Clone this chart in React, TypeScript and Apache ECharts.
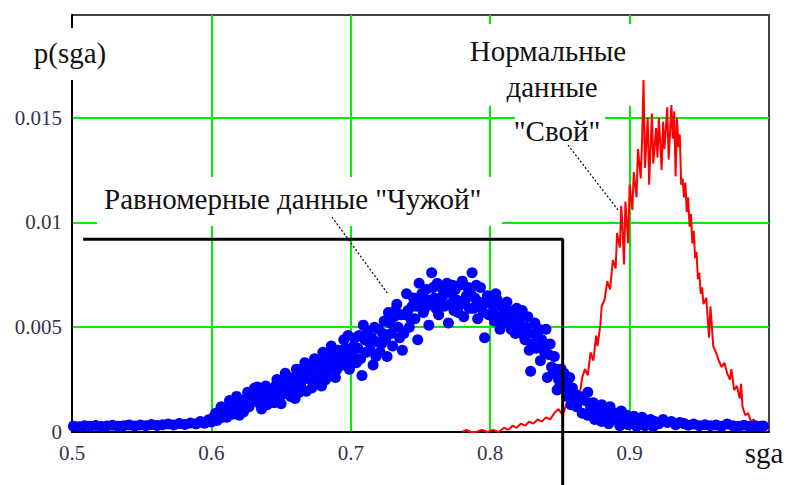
import React, { useEffect, useRef } from "react";
import * as echarts from "echarts";

const FONT = "Liberation Serif";

const xTickLabels = ["0.5", "0.6", "0.7", "0.8", "0.9"];
const yTickValues = [0, 0.005, 0.01, 0.015];

// "Свой" – normal data (red trace)
const redPoints: [number, number][] = [
  [0.780, 0.0000], [0.783, 0.0001], [0.786, 0.0000], [0.790, 0.0000], [0.794, 0.0001],
  [0.798, 0.0000], [0.802, 0.0001], [0.806, 0.0000], [0.810, 0.0002], [0.813, 0.0001],
  [0.816, 0.0003], [0.819, 0.0002], [0.822, 0.0004], [0.825, 0.0003], [0.828, 0.0005],
  [0.831, 0.0004], [0.834, 0.0006], [0.837, 0.0005], [0.840, 0.0007], [0.843, 0.0006],
  [0.846, 0.0009], [0.849, 0.0011], [0.852, 0.0008], [0.855, 0.0014], [0.858, 0.0012],
  [0.861, 0.0020], [0.864, 0.0017], [0.866, 0.0026], [0.868, 0.0030], [0.870, 0.0027],
  [0.872, 0.0038], [0.874, 0.0034], [0.876, 0.0046], [0.877, 0.0041], [0.879, 0.0051],
  [0.880, 0.0060], [0.882, 0.0063], [0.884, 0.0072], [0.886, 0.0068], [0.888, 0.0082],
  [0.890, 0.0078], [0.891, 0.0095], [0.893, 0.0088], [0.894, 0.0108], [0.895, 0.0096],
  [0.896, 0.0080], [0.897, 0.0110], [0.899, 0.0090], [0.900, 0.0118], [0.902, 0.0106],
  [0.903, 0.0124], [0.905, 0.0112], [0.906, 0.0135], [0.908, 0.0121], [0.909, 0.0140],
  [0.910, 0.0168], [0.911, 0.0126], [0.913, 0.0150], [0.914, 0.0118], [0.916, 0.0152],
  [0.917, 0.0128], [0.919, 0.0145], [0.920, 0.0131], [0.921, 0.0150], [0.923, 0.0125],
  [0.924, 0.0148], [0.925, 0.0135], [0.927, 0.0155], [0.928, 0.0130], [0.930, 0.0156],
  [0.931, 0.0140], [0.932, 0.0153], [0.933, 0.0122], [0.934, 0.0150], [0.935, 0.0136],
  [0.936, 0.0142], [0.937, 0.0118], [0.938, 0.0121], [0.939, 0.0112], [0.940, 0.0119],
  [0.941, 0.0105], [0.942, 0.0112], [0.943, 0.0098], [0.944, 0.0104], [0.945, 0.0090],
  [0.946, 0.0096], [0.947, 0.0083], [0.948, 0.0086], [0.949, 0.0073], [0.950, 0.0076],
  [0.951, 0.0066], [0.952, 0.0069], [0.953, 0.0061], [0.955, 0.0064], [0.957, 0.0045],
  [0.958, 0.0060], [0.960, 0.0041], [0.962, 0.0038], [0.964, 0.0034], [0.966, 0.0031],
  [0.968, 0.0033], [0.970, 0.0028], [0.972, 0.0025], [0.973, 0.0030], [0.975, 0.0020],
  [0.977, 0.0022], [0.979, 0.0016], [0.980, 0.0023], [0.981, 0.0012], [0.983, 0.0008],
  [0.985, 0.0009], [0.987, 0.0005], [0.989, 0.0006], [0.991, 0.0003], [0.993, 0.0004],
  [0.995, 0.0001], [0.996, 0.0005], [0.998, 0.0000],
];

// "Чужой" – uniform data (blue dots)
const blueDots: [number, number][] = [
  [0.501, 0.00028], [0.505, 0.00025], [0.509, 0.00030], [0.513, 0.00027], [0.517, 0.00031],
  [0.521, 0.00026], [0.525, 0.00029], [0.529, 0.00032], [0.533, 0.00028], [0.537, 0.00030],
  [0.541, 0.00034], [0.545, 0.00029], [0.549, 0.00033], [0.553, 0.00030], [0.557, 0.00036],
  [0.561, 0.00031], [0.565, 0.00035], [0.569, 0.00038], [0.573, 0.00033], [0.577, 0.00040],
  [0.581, 0.00036], [0.585, 0.00043], [0.589, 0.00038], [0.592, 0.00050], [0.595, 0.00042],
  [0.598, 0.00058], [0.600, 0.00048],
  [0.602, 0.00075], [0.604, 0.00055], [0.606, 0.00100], [0.608, 0.00070], [0.610, 0.00090],
  [0.612, 0.00115], [0.613, 0.00150], [0.615, 0.00085], [0.617, 0.00125], [0.619, 0.00105],
  [0.621, 0.00140], [0.623, 0.00095], [0.625, 0.00160], [0.627, 0.00120], [0.629, 0.00185],
  [0.631, 0.00210], [0.633, 0.00215], [0.634, 0.00140], [0.636, 0.00110], [0.638, 0.00175],
  [0.640, 0.00130], [0.642, 0.00200], [0.644, 0.00155], [0.646, 0.00220], [0.648, 0.00180],
  [0.650, 0.00135], [0.652, 0.00240], [0.654, 0.00190], [0.656, 0.00260], [0.658, 0.00210],
  [0.660, 0.00160], [0.662, 0.00275], [0.664, 0.00230], [0.666, 0.00290], [0.668, 0.00195],
  [0.669, 0.00255], [0.671, 0.00310], [0.673, 0.00240], [0.675, 0.00325], [0.677, 0.00280],
  [0.679, 0.00220], [0.681, 0.00340], [0.683, 0.00290], [0.685, 0.00370], [0.687, 0.00310],
  [0.689, 0.00260], [0.691, 0.00390], [0.693, 0.00330], [0.695, 0.00440], [0.697, 0.00360],
  [0.699, 0.00300], [0.700, 0.00340],
  [0.603, 0.00090], [0.607, 0.00120], [0.611, 0.00070], [0.614, 0.00120], [0.618, 0.00170],
  [0.620, 0.00080], [0.624, 0.00130], [0.626, 0.00190], [0.628, 0.00150], [0.632, 0.00170],
  [0.635, 0.00200], [0.637, 0.00130], [0.639, 0.00220], [0.641, 0.00160], [0.643, 0.00190],
  [0.645, 0.00140], [0.647, 0.00250], [0.649, 0.00210], [0.651, 0.00180], [0.653, 0.00280],
  [0.655, 0.00220], [0.657, 0.00170], [0.659, 0.00240], [0.661, 0.00300], [0.663, 0.00190],
  [0.665, 0.00260], [0.667, 0.00330], [0.670, 0.00280], [0.672, 0.00210], [0.674, 0.00350],
  [0.676, 0.00260], [0.678, 0.00320], [0.680, 0.00380], [0.682, 0.00250], [0.684, 0.00330],
  [0.686, 0.00410], [0.688, 0.00350], [0.690, 0.00300], [0.692, 0.00360], [0.694, 0.00320],
  [0.696, 0.00400], [0.698, 0.00460],
  [0.702, 0.00410], [0.704, 0.00330], [0.706, 0.00460], [0.708, 0.00270], [0.709, 0.00510],
  [0.711, 0.00380], [0.713, 0.00430], [0.715, 0.00450], [0.716, 0.00320], [0.718, 0.00360],
  [0.720, 0.00490], [0.722, 0.00420], [0.724, 0.00530], [0.726, 0.00360], [0.727, 0.00570],
  [0.729, 0.00470], [0.731, 0.00550], [0.733, 0.00610], [0.735, 0.00450], [0.737, 0.00390],
  [0.739, 0.00560], [0.740, 0.00660], [0.742, 0.00500], [0.744, 0.00600], [0.745, 0.00640],
  [0.746, 0.00540], [0.748, 0.00440], [0.749, 0.00710], [0.750, 0.00620], [0.752, 0.00570],
  [0.753, 0.00590], [0.754, 0.00680], [0.756, 0.00510], [0.757, 0.00610], [0.758, 0.00760],
  [0.760, 0.00640], [0.761, 0.00590], [0.762, 0.00710], [0.763, 0.00560], [0.765, 0.00690],
  [0.766, 0.00650], [0.767, 0.00600], [0.769, 0.00710], [0.770, 0.00520], [0.771, 0.00610],
  [0.772, 0.00660], [0.774, 0.00580], [0.775, 0.00680], [0.776, 0.00630], [0.778, 0.00700],
  [0.779, 0.00610], [0.780, 0.00720], [0.781, 0.00550], [0.783, 0.00650], [0.784, 0.00690],
  [0.785, 0.00590], [0.787, 0.00760], [0.788, 0.00590], [0.789, 0.00640], [0.791, 0.00540],
  [0.792, 0.00620], [0.793, 0.00690], [0.794, 0.00600], [0.796, 0.00450], [0.798, 0.00650],
  [0.799, 0.00560],
  [0.701, 0.00370], [0.703, 0.00450], [0.705, 0.00400], [0.707, 0.00350], [0.710, 0.00440],
  [0.712, 0.00480], [0.714, 0.00390], [0.717, 0.00500], [0.719, 0.00430], [0.721, 0.00380],
  [0.723, 0.00470], [0.725, 0.00440], [0.728, 0.00520], [0.730, 0.00410], [0.732, 0.00580],
  [0.734, 0.00500], [0.736, 0.00560], [0.738, 0.00470], [0.741, 0.00580], [0.743, 0.00540],
  [0.747, 0.00600], [0.751, 0.00660], [0.755, 0.00630], [0.759, 0.00690], [0.764, 0.00620],
  [0.768, 0.00670], [0.773, 0.00700], [0.777, 0.00570], [0.782, 0.00630], [0.786, 0.00660],
  [0.790, 0.00700], [0.795, 0.00570], [0.797, 0.00620],
  [0.801, 0.00610], [0.803, 0.00530], [0.805, 0.00630], [0.807, 0.00490], [0.808, 0.00600],
  [0.810, 0.00570], [0.812, 0.00620], [0.814, 0.00520], [0.816, 0.00560], [0.818, 0.00470],
  [0.819, 0.00590], [0.821, 0.00530], [0.823, 0.00580], [0.825, 0.00440], [0.826, 0.00500],
  [0.828, 0.00390], [0.829, 0.00290], [0.830, 0.00420], [0.832, 0.00520], [0.834, 0.00460],
  [0.836, 0.00340], [0.837, 0.00440], [0.839, 0.00380], [0.840, 0.00490], [0.841, 0.00260],
  [0.843, 0.00420], [0.844, 0.00310], [0.845, 0.00280], [0.846, 0.00360], [0.848, 0.00200],
  [0.849, 0.00250], [0.851, 0.00300], [0.852, 0.00240], [0.854, 0.00210], [0.855, 0.00170],
  [0.857, 0.00260], [0.858, 0.00130], [0.859, 0.00210], [0.861, 0.00180],
  [0.802, 0.00570], [0.804, 0.00660], [0.806, 0.00550], [0.809, 0.00520], [0.811, 0.00590],
  [0.813, 0.00550], [0.815, 0.00490], [0.817, 0.00580], [0.820, 0.00500], [0.822, 0.00550],
  [0.824, 0.00460], [0.827, 0.00550], [0.831, 0.00470], [0.833, 0.00400], [0.835, 0.00490],
  [0.838, 0.00420], [0.842, 0.00370], [0.847, 0.00300], [0.850, 0.00220], [0.853, 0.00280],
  [0.856, 0.00220], [0.860, 0.00150],
  [0.862, 0.00120], [0.864, 0.00170], [0.866, 0.00090], [0.868, 0.00150], [0.870, 0.00190],
  [0.870, 0.00080], [0.872, 0.00120], [0.874, 0.00140], [0.875, 0.00060], [0.876, 0.00090],
  [0.878, 0.00110], [0.880, 0.00130], [0.880, 0.00050], [0.882, 0.00080], [0.884, 0.00100],
  [0.885, 0.00040], [0.886, 0.00120], [0.888, 0.00060], [0.890, 0.00090], [0.892, 0.00070],
  [0.893, 0.00030], [0.894, 0.00100], [0.896, 0.00060], [0.898, 0.00080], [0.899, 0.00035],
  [0.900, 0.00050], [0.903, 0.00075], [0.905, 0.00028], [0.906, 0.00055], [0.909, 0.00070],
  [0.911, 0.00030], [0.912, 0.00045], [0.915, 0.00060], [0.917, 0.00026], [0.918, 0.00050],
  [0.921, 0.00040], [0.924, 0.00060], [0.927, 0.00045], [0.930, 0.00050], [0.933, 0.00035],
  [0.936, 0.00045], [0.939, 0.00040], [0.942, 0.00032], [0.946, 0.00038], [0.950, 0.00030],
  [0.954, 0.00035], [0.958, 0.00030], [0.962, 0.00033], [0.966, 0.00028], [0.970, 0.00038],
  [0.974, 0.00030], [0.978, 0.00027], [0.982, 0.00032], [0.986, 0.00028], [0.990, 0.00030],
  [0.994, 0.00027], [0.996, 0.00029],
];

// threshold step line
const thresholdX = [0.508, 0.852, 0.852];
const thresholdY = [0.0092, 0.0092, -0.003];

export default function App() {
  const ref = useRef<HTMLDivElement>(null);

  useEffect(() => {
    document.body.style.margin = "0";
    if (!ref.current) return;
    const chart = echarts.init(ref.current, undefined, { renderer: "svg" });

    const title = (text: string, x: number, y: number, align: string) => ({
      text,
      left: x,
      top: y,
      padding: 0,
      z: 20,
      textAlign: align,
      textVerticalAlign: "middle",
      textStyle: { fontFamily: FONT, fontSize: 29, fontWeight: "normal", color: "#111" },
    });

    chart.setOption({
      animation: false,
      backgroundColor: "#ffffff",
      title: [
        title("p(sga)", 70, 53, "center"),
        title("sga", 764, 453, "center"),
        title("Нормальные", 548, 50.5, "center"),
        title("данные", 552, 86.5, "center"),
        title("\"Свой\"", 557, 130.5, "center"),
        title("Равномерные данные \"Чужой\"", 104, 198.5, "left"),
      ],
      grid: {
        left: 72,
        right: 34,
        top: 15,
        bottom: 53,
        show: true,
        borderColor: "#444444",
        borderWidth: 2,
        backgroundColor: "transparent",
      },
      xAxis: {
        type: "value",
        min: 0.5,
        max: 1.0,
        interval: 0.1,
        axisLine: { show: true, onZero: false, lineStyle: { color: "#000", width: 2 } },
        axisTick: { show: false },
        splitLine: {
          show: true,
          showMinLine: false,
          showMaxLine: false,
          lineStyle: { color: "#00ee00", width: 2 },
        },
        axisLabel: {
          margin: 10,
          fontFamily: FONT,
          fontSize: 21,
          color: "#333350",
          formatter: (v: number) => {
            const s = String(Math.round(v * 10) / 10);
            return xTickLabels.includes(s) ? s : "";
          },
        },
      },
      yAxis: {
        type: "value",
        min: 0,
        max: 0.0199,
        interval: 0.005,
        axisLine: { show: true, onZero: false, lineStyle: { color: "#000", width: 2 } },
        axisTick: { show: false },
        splitLine: {
          show: true,
          showMinLine: false,
          showMaxLine: false,
          lineStyle: { color: "#00ee00", width: 2 },
        },
        axisLabel: {
          margin: 10,
          fontFamily: FONT,
          fontSize: 21,
          color: "#333350",
          formatter: (v: number) => {
            const hit = yTickValues.find((t) => Math.abs(t - v) < 1e-9);
            return hit === undefined ? "" : String(hit);
          },
        },
      },
      series: [
        {
          type: "line",
          data: redPoints,
          symbol: "none",
          lineStyle: { color: "#ff0000", width: 2 },
          z: 2,
        },
        {
          type: "scatter",
          data: blueDots,
          symbol: "circle",
          symbolSize: 11,
          itemStyle: { color: "#0000ff", opacity: 1 },
          z: 3,
        },
        {
          type: "line",
          data: thresholdX.map((x, i) => [x, thresholdY[i]]),
          symbol: "none",
          clip: false,
          lineStyle: { color: "#000", width: 3 },
          z: 4,
        },
      ],
      graphic: [
        { type: "rect", z: 10, shape: { x: 30, y: 28, width: 80, height: 52 }, style: { fill: "#fff" } },
        { type: "rect", z: 10, shape: { x: 462, y: 24, width: 174, height: 82 }, style: { fill: "#fff" } },
        { type: "rect", z: 10, shape: { x: 515, y: 106, width: 90, height: 42 }, style: { fill: "#fff" } },
        { type: "rect", z: 10, shape: { x: 97, y: 177, width: 405, height: 49 }, style: { fill: "#fff" } },
        {
          type: "line", z: 12,
          shape: { x1: 332, y1: 217, x2: 388, y2: 294 },
          style: { stroke: "#000", lineWidth: 1.2, lineDash: [2, 2] },
        },
        {
          type: "line", z: 12,
          shape: { x1: 568, y1: 145, x2: 618, y2: 210 },
          style: { stroke: "#000", lineWidth: 1.2, lineDash: [2, 2] },
        },
      ],
    });

    return () => chart.dispose();
  }, []);

  return <div ref={ref} style={{ width: 803, height: 485 }} />;
}
